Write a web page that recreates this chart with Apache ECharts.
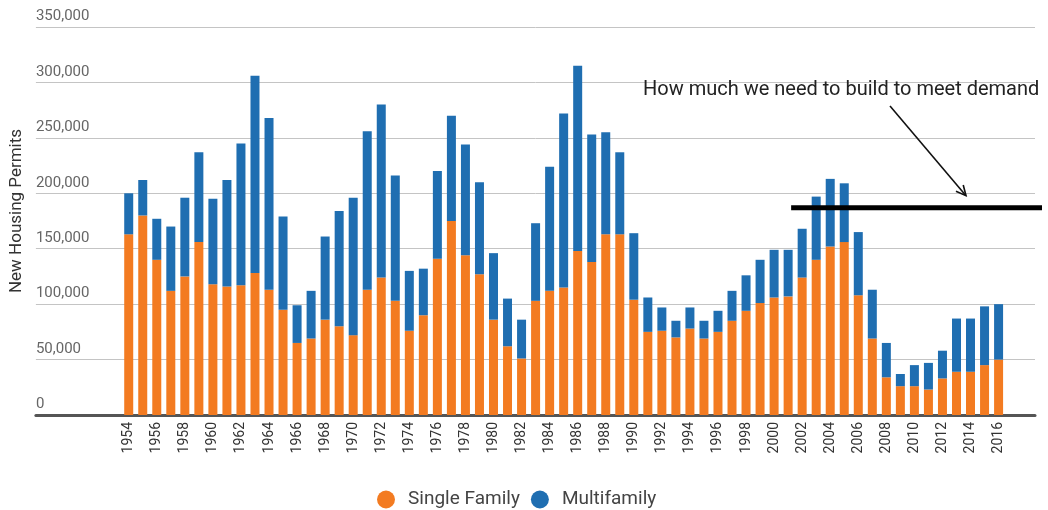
<!DOCTYPE html>
<html>
<head>
<meta charset="utf-8">
<script src="https://cdn.jsdelivr.net/npm/echarts@6/dist/echarts.min.js"></script>
<style>
html,body{margin:0;padding:0;background:#fff;}
#chart{width:1048px;height:510px;}
</style>
</head>
<body>
<div id="chart"></div>
<script>
const years = ['1954','1955','1956','1957','1958','1959','1960','1961','1962','1963','1964','1965','1966','1967','1968','1969','1970','1971','1972','1973','1974','1975','1976','1977','1978','1979','1980','1981','1982','1983','1984','1985','1986','1987','1988','1989','1990','1991','1992','1993','1994','1995','1996','1997','1998','1999','2000','2001','2002','2003','2004','2005','2006','2007','2008','2009','2010','2011','2012','2013','2014','2015','2016'];
const singleFamily = [163000,180000,140000,112000,125000,156000,118000,116000,117000,128000,113000,95000,65000,69000,86000,80000,72000,113000,124000,103000,76000,90000,141000,175000,144000,127000,86000,62000,51000,103000,112000,115000,148000,138000,163000,163000,104000,75000,76000,70000,78000,69000,75000,85000,94000,101000,106000,107000,124000,140000,152000,156000,108000,69000,34000,26000,26000,23000,33000,39000,39000,45000,50000];
const multifamily = [37000,32000,37000,58000,71000,81000,77000,96000,128000,178000,155000,84000,34000,43000,75000,104000,124000,143000,156000,113000,54000,42000,79000,95000,100000,83000,60000,43000,35000,70000,112000,157000,167000,115000,92000,74000,60000,31000,21000,15000,19000,16000,19000,27000,32000,39000,43000,42000,44000,57000,61000,53000,57000,44000,31000,11000,19000,24000,25000,48000,48000,53000,50000];
const demandLevel = 187000;
const demandStartYear = '2001';
const annotationText = 'How much we need to build to meet demand';

const FONT = 'Roboto, "Noto Sans", sans-serif';
const chart = echarts.init(document.getElementById('chart'), null, {renderer: 'canvas'});

const option = {
  animation: false,
  textStyle: {fontFamily: FONT},
  grid: [
    {left: 33, right: 13, top: 27, bottom: 95, containLabel: false},
    {left: 121.7, right: 42.4, top: 27, bottom: 95, containLabel: false}
  ],
  xAxis: [
    {
      gridIndex: 0,
      type: 'value',
      min: 0, max: 1,
      axisLine: {show: true, onZero: false, lineStyle: {color: '#555', width: 3}},
      axisTick: {show: false},
      axisLabel: {show: false},
      splitLine: {show: false}
    },
    {
      gridIndex: 1,
      type: 'category',
      data: years,
      axisLine: {show: false},
      axisTick: {show: false},
      splitLine: {show: false},
      axisLabel: {
        interval: 1,
        rotate: 90,
        margin: 7,
        color: '#333',
        fontSize: 14,
        fontFamily: FONT
      }
    }
  ],
  yAxis: [
    {
      gridIndex: 0,
      type: 'value',
      min: 0,
      max: 350000,
      interval: 50000,
      name: 'New Housing Permits',
      nameLocation: 'middle',
      nameGap: 8,
      nameRotate: 90,
      nameTextStyle: {color: '#333', fontSize: 17, fontFamily: FONT, padding: [0, 0, 0, 20]},
      axisLine: {show: false},
      axisTick: {show: false},
      splitLine: {lineStyle: {color: '#c4c4c4', width: 1}},
      axisLabel: {
        inside: true,
        margin: 0,
        verticalAlign: 'bottom',
        padding: [0, 0, 3, 0],
        color: '#666',
        fontSize: 15,
        fontFamily: FONT,
        formatter: v => v.toLocaleString('en-US')
      }
    },
    {
      gridIndex: 1,
      type: 'value',
      min: 0,
      max: 350000,
      interval: 50000,
      show: false,
      splitLine: {show: false}
    }
  ],
  legend: {
    left: 372,
    top: 485,
    icon: 'circle',
    itemWidth: 18,
    itemHeight: 18,
    itemGap: 11,
    textStyle: {color: '#444', fontSize: 19, fontFamily: FONT, padding: [0, 0, 0, 8]},
    data: ['Single Family', 'Multifamily']
  },
  series: [
    {
      name: 'Single Family',
      type: 'bar',
      stack: 'total',
      xAxisIndex: 1,
      yAxisIndex: 1,
      barWidth: 9,
      itemStyle: {color: '#f37b21'},
      data: singleFamily
    },
    {
      name: 'Multifamily',
      type: 'bar',
      stack: 'total',
      xAxisIndex: 1,
      yAxisIndex: 1,
      barWidth: 9,
      itemStyle: {color: '#1f6eb1'},
      data: multifamily
    }
  ]
};
chart.setOption(option);

// Annotation: demand line, arrow and label
const lineY = chart.convertToPixel({yAxisIndex: 1}, demandLevel);
const x0 = chart.convertToPixel({xAxisIndex: 1}, demandStartYear) + 3;
const x1 = 1042;
const ax0 = 890, ay0 = 106, ax1 = 966, ay1 = lineY - 12;
const dx = ax1 - ax0, dy = ay1 - ay0, len = Math.sqrt(dx*dx + dy*dy);
const ux = dx/len, uy = dy/len;
const hl = 11, ang = Math.PI/7;
function rot(x, y, a){ return [x*Math.cos(a) - y*Math.sin(a), x*Math.sin(a) + y*Math.cos(a)]; }
const h1 = rot(-ux, -uy, ang), h2 = rot(-ux, -uy, -ang);
chart.setOption({
  graphic: [
    {type: 'line', shape: {x1: x0, y1: lineY, x2: x1, y2: lineY}, style: {stroke: '#000', lineWidth: 5}, z: 100},
    {type: 'line', shape: {x1: ax0, y1: ay0, x2: ax1, y2: ay1}, style: {stroke: '#111', lineWidth: 1.6}, z: 100},
    {type: 'polyline', shape: {points: [[ax1 + h1[0]*hl, ay1 + h1[1]*hl], [ax1, ay1], [ax1 + h2[0]*hl, ay1 + h2[1]*hl]]}, style: {stroke: '#111', lineWidth: 1.6, fill: null}, z: 100},
    {type: 'text', x: 643, y: 90, style: {text: annotationText, fontSize: 20, fontFamily: FONT, fill: '#222', verticalAlign: 'middle', align: 'left'}, z: 100}
  ]
});
</script>
</body>
</html>
